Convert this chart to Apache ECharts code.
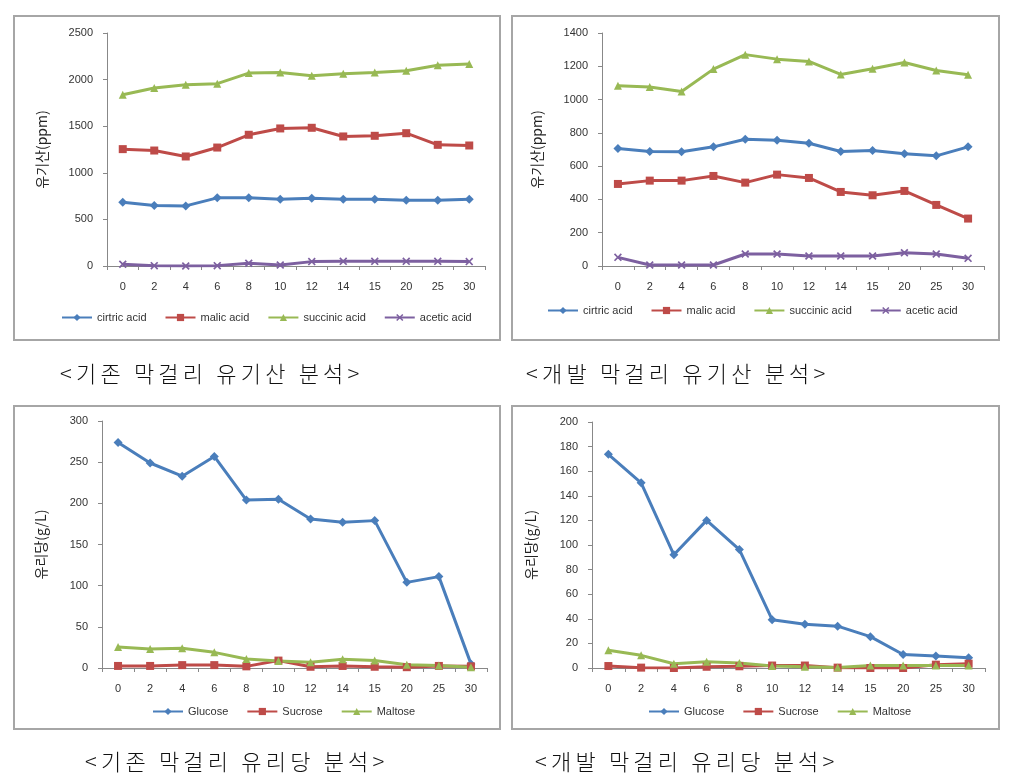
<!DOCTYPE html>
<html><head><meta charset="utf-8">
<script src="https://cdn.jsdelivr.net/npm/echarts@6/dist/echarts.min.js"></script>
<style>
html,body{margin:0;padding:0;background:#fff}
#wrap{position:relative;width:1015px;height:784px}
#c{width:1015px;height:784px}
.cap{position:absolute;font-family:"Noto Sans CJK KR",serif;font-size:22px;letter-spacing:4.2px;color:#111;white-space:pre;line-height:1;font-weight:300}
</style>
</head><body><div id="wrap"><div id="c"></div></div>
<script>
const days = ['0','2','4','6','8','10','12','14','15','20','25','30'];

// 기존 막걸리 유기산 (ppm)
const oldCitric   = [684,648,645,731,731,716,727,716,716,706,706,716];
const oldMalic    = [1254,1239,1175,1271,1408,1476,1483,1390,1397,1425,1300,1293];
const oldSuccinic = [1837,1909,1945,1956,2070,2077,2042,2063,2077,2095,2153,2167];
const oldAcetic   = [18,4,0,4,29,11,47,50,50,50,50,47];

// 개발 막걸리 유기산 (ppm)
const newCitric   = [706,688,686,716,762,756,738,688,694,674,662,716];
const newMalic    = [493,513,513,541,501,549,529,445,425,451,367,285];
const newSuccinic = [1083,1075,1049,1183,1270,1243,1229,1151,1185,1223,1175,1149];
const newAcetic   = [52,6,6,6,72,72,60,60,60,80,72,46];

// 기존 막걸리 유리당 (g/L)
const oldGlucose = [274,249,233,257,204,205,181,177,179,104,111,5];
const oldSucrose = [2.5,2.5,3.5,3.5,2,9,1.5,2.5,1.5,1,2.5,2];
const oldMaltose = [25.5,23,24,19,11,8.5,7,10.5,9,4,3,1];

// 개발 막걸리 유리당 (g/L)
const newGlucose = [173.7,150.6,92,120,96.3,39.3,35.5,34,25.5,11,9.8,8.4];
const newSucrose = [1.6,0.3,0,1,1.4,2,2,0.3,0,0,2.7,3.5];
const newMaltose = [14.4,10.3,3.5,5,4,1.6,1,0.5,2,2,2,2];

const acidNames = ['cirtric acid','malic acid','succinic acid','acetic acid'];
const sugarNames = ['Glucose','Sucrose','Maltose'];
const captions = ['<기존 막걸리 유기산 분석>','<개발 막걸리 유기산 분석>','<기존 막걸리 유리당 분석>','<개발 막걸리 유리당 분석>'];

const BLUE='#4a7ebb', RED='#be4b48', GREEN='#98b954', PURPLE='#7d60a0';
const XSYM='path://M0,1.5L1.5,0L5,3.5L8.5,0L10,1.5L6.5,5L10,8.5L8.5,10L5,6.5L1.5,10L0,8.5L3.5,5Z';
const styles = [
  {c:BLUE, s:'diamond', z:9},
  {c:RED, s:'rect', z:8},
  {c:GREEN, s:'triangle', z:8},
  {c:PURPLE, s:XSYM, z:8}
];
const font = 'Arial, "Noto Sans CJK KR", sans-serif';

const grids = [
  {left:107, top:33, width:378, height:233},
  {left:602, top:33, width:382, height:233},
  {left:102, top:421, width:385, height:247},
  {left:592, top:422, width:393, height:246}
];
const yCfg = [
  {max:2500, interval:500, name:'유기산(ppm)', gap:58},
  {max:1400, interval:200, name:'유기산(ppm)', gap:58},
  {max:300, interval:50, name:'유리당(g/L)', gap:54},
  {max:200, interval:20, name:'유리당(g/L)', gap:54}
];

const xAxis = grids.map((g,i)=>({
  type:'category', gridIndex:i, data:days, boundaryGap:true,
  axisLine:{lineStyle:{color:'#888',width:1}},
  axisTick:{show:true, length:4, alignWithLabel:false, lineStyle:{color:'#888'}},
  axisLabel:{color:'#333', fontSize:11, fontFamily:font, margin:15}
}));
const yAxis = yCfg.map((y,i)=>({
  type:'value', gridIndex:i, min:0, max:y.max, interval:y.interval,
  name:y.name, nameLocation:'middle', nameRotate:90, nameGap:y.gap,
  nameTextStyle:{color:'#222', fontSize:14, fontFamily:'"Noto Sans CJK KR", sans-serif'},
  axisLine:{show:true, lineStyle:{color:'#888',width:1}},
  axisTick:{show:true, length:4, lineStyle:{color:'#888'}},
  splitLine:{show:false},
  axisLabel:{color:'#333', fontSize:11, fontFamily:font, margin:14, formatter:v=>String(v)}
}));

function mk(name, data, idx, st){
  return {
    name, type:'line', data, xAxisIndex:idx, yAxisIndex:idx,
    symbol:st.s, symbolSize:st.z, showSymbol:true,
    lineStyle:{color:st.c, width:3},
    itemStyle:{color:st.c},
    animation:false
  };
}
const series = [
  mk(acidNames[0], oldCitric, 0, styles[0]),
  mk(acidNames[1], oldMalic, 0, styles[1]),
  mk(acidNames[2], oldSuccinic, 0, styles[2]),
  mk(acidNames[3], oldAcetic, 0, styles[3]),
  mk(acidNames[0], newCitric, 1, styles[0]),
  mk(acidNames[1], newMalic, 1, styles[1]),
  mk(acidNames[2], newSuccinic, 1, styles[2]),
  mk(acidNames[3], newAcetic, 1, styles[3]),
  mk(sugarNames[0], oldGlucose, 2, styles[0]),
  mk(sugarNames[1], oldSucrose, 2, styles[1]),
  mk(sugarNames[2], oldMaltose, 2, styles[2]),
  mk(sugarNames[0], newGlucose, 3, styles[0]),
  mk(sugarNames[1], newSucrose, 3, styles[1]),
  mk(sugarNames[2], newMaltose, 3, styles[2])
];
const legendBase = {itemWidth:30, itemHeight:9, itemGap:18, textStyle:{color:'#333', fontSize:11, fontFamily:font}, selectedMode:false};
const legend = [
  Object.assign({}, legendBase, {data:acidNames, left:56, top:307}),
  Object.assign({}, legendBase, {data:acidNames, left:542, top:300}),
  Object.assign({}, legendBase, {data:sugarNames, left:147, top:701}),
  Object.assign({}, legendBase, {data:sugarNames, left:643, top:701})
];

const boxes = [
  {x:14,y:16,w:486,h:324},
  {x:512,y:16,w:487,h:324},
  {x:14,y:406,w:486,h:323},
  {x:512,y:406,w:487,h:323}
];
const graphic = boxes.map(b=>({type:'rect', shape:{x:b.x,y:b.y,width:b.w,height:b.h}, style:{fill:'none', stroke:'#a6a6a6', lineWidth:2}, silent:true, z:-1}));

const chart = echarts.init(document.getElementById('c'), null, {renderer:'canvas'});
chart.setOption({
  animation:false, backgroundColor:'#fff',
  grid: grids, xAxis, yAxis, series, legend, graphic
});

// captions as real HTML text
const capPos = [[60,361],[526,361],[85,749],[535,749]];
captions.forEach((t,i)=>{
  const d=document.createElement('div');
  d.className='cap';
  d.textContent=t;
  d.style.left=capPos[i][0]+'px';
  d.style.top=capPos[i][1]+'px';
  document.getElementById('wrap').appendChild(d);
});
</script></body></html>
